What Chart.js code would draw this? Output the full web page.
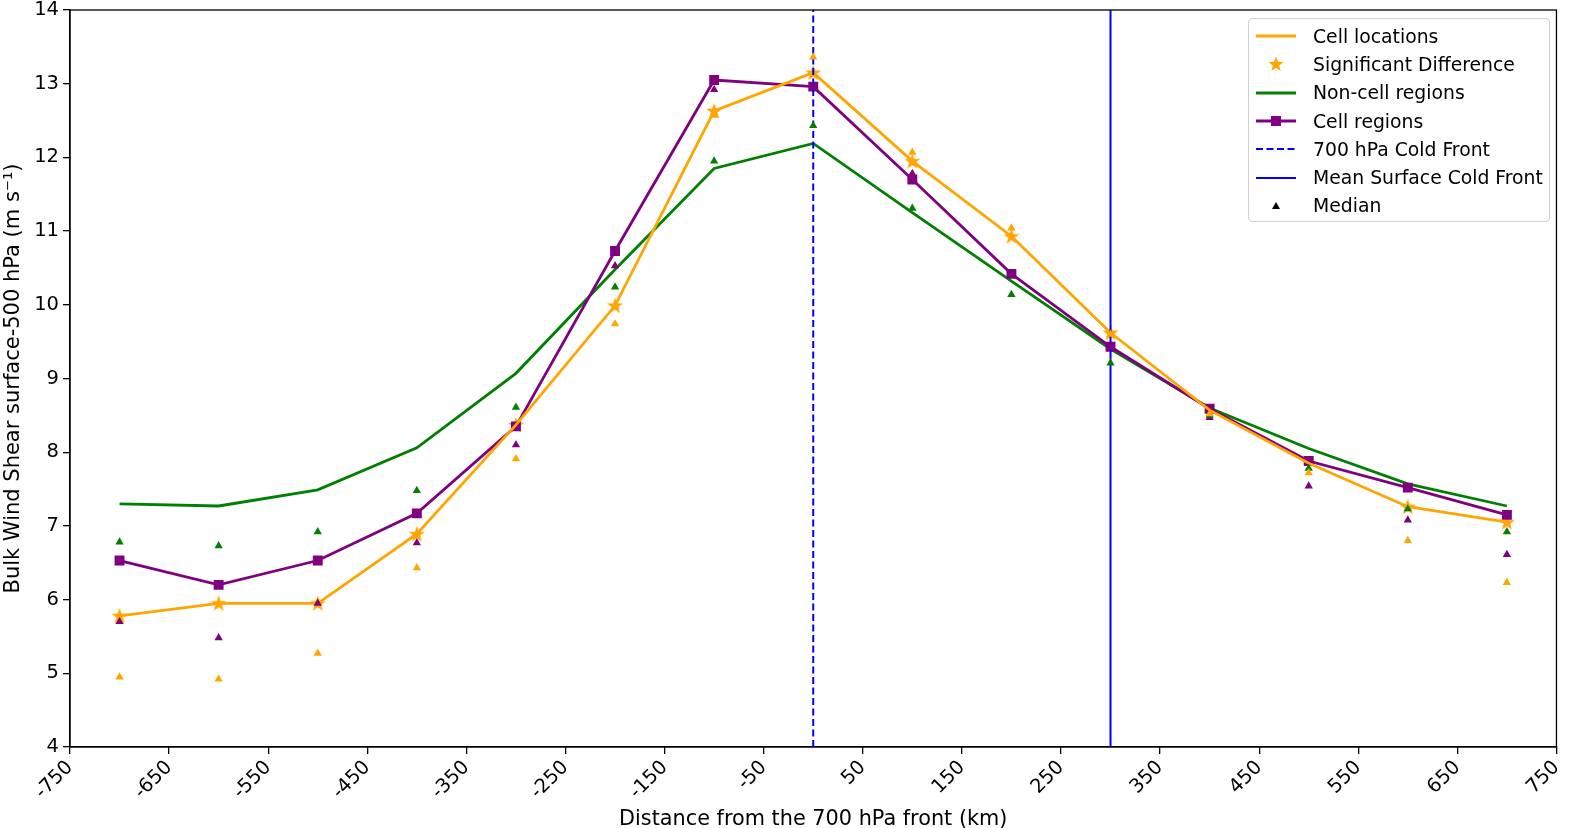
<!DOCTYPE html>
<html>
<head>
<meta charset="utf-8">
<script src="https://cdn.jsdelivr.net/npm/chart.js@4.4.1/dist/chart.umd.min.js"></script>
<style>
  body { margin:0; background:#fff; font-family:"DejaVu Sans", sans-serif; }
  #wrap { position:relative; width:1575px; height:828px; }
  #legend { position:absolute; left:1248px; top:18px; width:302px; height:204px; box-sizing:border-box;
            border:1px solid #d0d0d0; border-radius:4px; background:rgba(255,255,255,0.8); padding-top:3px; }
  .row { display:flex; align-items:center; height:28.3px; font-size:18.8px; color:#000; }
  .row svg { width:44px; height:20px; margin-left:5px; margin-right:15px; flex:none; }
</style>
</head>
<body>
<div id="wrap">
  <canvas id="c"></canvas>
  <div id="legend">
    <div class="row"><svg viewBox="0 0 44 20"><line x1="2" y1="10" x2="42" y2="10" stroke="#FFA500" stroke-width="2.8"/></svg>Cell locations</div>
    <div class="row"><svg viewBox="0 0 44 20"><polygon id="starpoly" fill="#FFA500"/></svg>Significant Difference</div>
    <div class="row"><svg viewBox="0 0 44 20"><line x1="2" y1="10" x2="42" y2="10" stroke="#008000" stroke-width="2.8"/></svg>Non-cell regions</div>
    <div class="row"><svg viewBox="0 0 44 20"><line x1="2" y1="10" x2="42" y2="10" stroke="#800080" stroke-width="2.8"/><rect x="17" y="5" width="10" height="10" fill="#800080"/></svg>Cell regions</div>
    <div class="row"><svg viewBox="0 0 44 20"><line x1="2" y1="10" x2="42" y2="10" stroke="#0000FF" stroke-width="2" stroke-dasharray="7,3.5"/></svg>700 hPa Cold Front</div>
    <div class="row"><svg viewBox="0 0 44 20"><line x1="2" y1="10" x2="42" y2="10" stroke="#0000FF" stroke-width="2"/></svg>Mean Surface Cold Front</div>
    <div class="row"><svg viewBox="0 0 44 20"><polygon points="22,6 26,13 18,13" fill="#000"/></svg>Median</div>
  </div>
</div>
<script>
// distance from the 700 hPa front (km)
const distances = [-700, -600, -500, -400, -300, -200, -100, 0, 100, 200, 300, 400, 500, 600, 700];

// mean bulk shear (m/s)
const cellLocations = [5.78, 5.95, 5.95, 6.89, 8.37, 9.99, 12.63, 13.15, 11.95, 10.93, 9.62, 8.57, 7.85, 7.26, 7.05];
const nonCellRegions = [7.30, 7.27, 7.49, 8.06, 9.07, 10.48, 11.85, 12.19, 11.25, 10.32, 9.40, 8.60, 8.05, 7.57, 7.27];
const cellRegions = [6.53, 6.20, 6.53, 7.17, 8.35, 10.73, 13.05, 12.96, 11.70, 10.42, 9.43, 8.59, 7.88, 7.52, 7.15];

// medians
const medCellLocations = [4.95, 4.92, 5.27, 6.43, 7.91, 9.74, 12.57, 13.36, 12.07, 11.04, 9.60, 8.52, 7.72, 6.80, 6.23];
const medNonCell = [6.78, 6.73, 6.92, 7.48, 8.61, 10.24, 11.95, 12.43, 11.31, 10.14, 9.21, 8.50, 7.78, 7.23, 6.92];
const medCellRegions = [5.70, 5.48, 5.95, 6.77, 8.10, 10.53, 12.92, 12.95, 11.78, 10.42, 9.43, 8.47, 7.54, 7.08, 6.61];

// points with a significant difference (starred)
const sigDistances = [-700, -600, -500, -400, -300, -200, -100, 0, 100, 200, 300, 600, 700];

const front700 = 0;
const surfaceFront = 300;

const xTicks = [-750, -650, -550, -450, -350, -250, -150, -50, 50, 150, 250, 350, 450, 550, 650, 750];
const yTicks = [4, 5, 6, 7, 8, 9, 10, 11, 12, 13, 14];

function starPoints(cx, cy, ro, ri) {
  const pts = [];
  for (let i = 0; i < 10; i++) {
    const r = i % 2 ? ri : ro;
    const a = -Math.PI / 2 + i * Math.PI / 5;
    pts.push([cx + r * Math.cos(a), cy + r * Math.sin(a)]);
  }
  return pts;
}
document.getElementById('starpoly').setAttribute('points',
  starPoints(22, 10.5, 8, 3.3).map(p => p.join(',')).join(' '));

const starImg = document.createElement('canvas');
starImg.width = 18; starImg.height = 18;
(function () {
  const g = starImg.getContext('2d');
  g.fillStyle = '#FFA500';
  g.beginPath();
  starPoints(9, 9.5, 8.5, 3.4).forEach((p, i) => i ? g.lineTo(p[0], p[1]) : g.moveTo(p[0], p[1]));
  g.closePath();
  g.fill();
})();

const pts = vals => distances.map((d, i) => ({ x: d, y: vals[i] }));
const sigPts = sigDistances.map(d => ({ x: d, y: cellLocations[distances.indexOf(d)] }));
const vline = x => [{ x: x, y: yTicks[0] }, { x: x, y: yTicks[yTicks.length - 1] }];

const frame = {
  id: 'frame',
  afterDraw(chart) {
    const a = chart.chartArea, g = chart.ctx;
    g.save();
    g.strokeStyle = '#000';
    g.lineWidth = 1.3;
    g.strokeRect(a.left, a.top, a.right - a.left, a.bottom - a.top);
    g.restore();
  }
};

const tri = (data, color) => ({
  type: 'scatter', data: pts(data), pointStyle: 'triangle', pointRadius: 4.8,
  backgroundColor: color, borderColor: color, borderWidth: 0, order: 0
});

new Chart(document.getElementById('c'), {
  type: 'line',
  data: {
    datasets: [
      tri(medCellLocations, '#FFA500'),
      tri(medNonCell, '#008000'),
      tri(medCellRegions, '#800080'),
      { data: vline(front700), borderColor: '#0000FF', borderWidth: 2, borderDash: [7, 3.5], pointRadius: 0, order: 1 },
      { data: vline(surfaceFront), borderColor: '#0000FF', borderWidth: 2, pointRadius: 0, order: 1 },
      { data: pts(cellLocations), borderColor: '#FFA500', borderWidth: 2.8, pointRadius: 0, order: 2 },
      { data: pts(cellRegions), borderColor: '#800080', backgroundColor: '#800080', borderWidth: 2.8,
        pointStyle: 'rect', pointRadius: 7, pointBorderWidth: 0, order: 3 },
      { data: pts(nonCellRegions), borderColor: '#008000', borderWidth: 2.8, pointRadius: 0, order: 4 },
      { type: 'scatter', data: sigPts, pointStyle: starImg, pointRadius: 9, order: 5 }
    ]
  },
  options: {
    responsive: true,
    maintainAspectRatio: false,
    animation: false,
    events: [],
    layout: { padding: { top: 8, right: 15, left: 0, bottom: 0 } },
    plugins: { legend: { display: false }, tooltip: { enabled: false } },
    scales: {
      x: {
        type: 'linear', min: -750, max: 750,
        afterBuildTicks: s => { s.ticks = xTicks.map(v => ({ value: v })); },
        afterFit: s => { s.height = 81; },
        ticks: { color: '#000', font: { family: 'DejaVu Sans', size: 19.5 }, minRotation: 45, maxRotation: 45,
                 autoSkip: false, padding: 2, callback: v => String(v) },
        grid: { drawOnChartArea: false, drawTicks: true, tickLength: 7, color: '#000', lineWidth: 1.3 },
        border: { color: '#000', width: 1.3 },
        title: { display: true, text: 'Distance from the 700 hPa front (km)', color: '#000',
                 font: { family: 'DejaVu Sans', size: 20.8, lineHeight: 0.82 }, padding: { top: 0, bottom: 0 } }
      },
      y: {
        type: 'linear', min: 4, max: 14,
        afterBuildTicks: s => { s.ticks = yTicks.map(v => ({ value: v })); },
        afterFit: s => { s.width = 70; },
        ticks: { color: '#000', font: { family: 'DejaVu Sans', size: 19.5, lineHeight: 0.5 }, padding: 4 },
        grid: { drawOnChartArea: false, drawTicks: true, tickLength: 7, color: '#000', lineWidth: 1.3 },
        border: { color: '#000', width: 1.3 },
        title: { display: true, text: 'Bulk Wind Shear surface-500 hPa (m s\u207B\u00B9)', color: '#000',
                 font: { family: 'DejaVu Sans', size: 21 }, padding: { top: 1, bottom: 0 } }
      }
    }
  },
  plugins: [frame]
});
</script>
</body>
</html>
